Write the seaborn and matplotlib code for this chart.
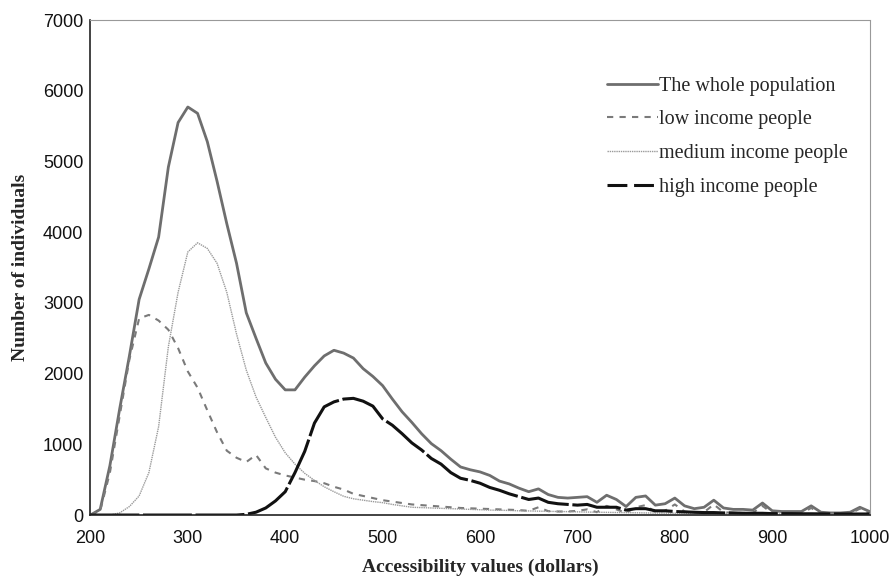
import numpy as np
import pandas as pd
import matplotlib
matplotlib.use("Agg")
import matplotlib.pyplot as plt
import seaborn as sns

# Accessibility values (dollars), 10-dollar bins
access = list(range(200, 1001, 10))

whole_population = [
    0, 80, 700, 1500, 2250, 3050, 3480, 3930, 4920, 5550,
    5770, 5680, 5280, 4720, 4120, 3560, 2860, 2500, 2150, 1920,
    1770, 1770, 1950, 2110, 2250, 2330, 2290, 2220, 2070, 1960,
    1830, 1640, 1460, 1310, 1150, 1010, 910, 790, 680, 640,
    610, 560, 480, 440, 380, 330, 370, 290, 250, 240,
    250, 260, 180, 280, 220, 120, 250, 270, 140, 160,
    240, 130, 90, 110, 210, 100, 80, 80, 70, 170,
    60, 50, 50, 50, 130, 40, 30, 30, 40, 110,
    50,
]

low_income = [
    0, 60, 600, 1400, 2200, 2780, 2830, 2750, 2620, 2360,
    2030, 1800, 1480, 1170, 910, 810, 750, 850, 660, 600,
    560, 530, 500, 480, 450, 400, 360, 300, 270, 240,
    210, 190, 170, 150, 140, 130, 120, 110, 100, 95,
    90, 85, 80, 75, 70, 60, 110, 55, 50, 50,
    60, 80, 40, 130, 80, 30, 110, 140, 40, 60,
    150, 50, 30, 40, 150, 40, 30, 30, 30, 130,
    25, 20, 20, 20, 100, 20, 15, 15, 20, 90,
    30,
]

medium_income = [
    0, 0, 0, 30, 120, 270, 600, 1250, 2380, 3150,
    3720, 3850, 3770, 3560, 3150, 2560, 2050, 1670, 1380, 1100,
    880, 720, 590, 490, 400, 330, 265, 230, 210, 190,
    175, 150, 130, 110, 105, 100, 95, 90, 85, 80,
    75, 70, 68, 65, 60, 58, 55, 52, 50, 48,
    45, 42, 40, 38, 36, 34, 32, 30, 28, 27,
    26, 25, 24, 23, 22, 21, 20, 19, 18, 17,
    16, 15, 15, 14, 14, 13, 12, 12, 11, 11,
    10,
]

high_income = [
    0, 0, 0, 0, 0, 0, 0, 0, 0, 0,
    0, 0, 0, 0, 0, 0, 10, 40, 100, 200,
    330, 600, 900, 1300, 1530, 1600, 1640, 1650, 1610, 1540,
    1360, 1270, 1150, 1020, 920, 800, 720, 600, 520, 490,
    450, 390, 350, 300, 260, 220, 240, 180, 160, 150,
    140, 150, 110, 110, 110, 70, 90, 90, 60, 60,
    50, 45, 40, 35, 35, 30, 30, 25, 25, 25,
    20, 20, 20, 18, 18, 17, 16, 16, 15, 15,
    15,
]

series_labels = [
    "The whole population",
    "low income people",
    "medium income people",
    "high income people",
]

x_ticks = [200, 300, 400, 500, 600, 700, 800, 900, 1000]
y_ticks = [0, 1000, 2000, 3000, 4000, 5000, 6000, 7000]

df = pd.DataFrame({
    "access": access,
    series_labels[0]: whole_population,
    series_labels[1]: low_income,
    series_labels[2]: medium_income,
    series_labels[3]: high_income,
})

sns.set_theme(style="white")
plt.rcParams["font.family"] = ["Liberation Sans", "DejaVu Sans"]

fig = plt.figure(figsize=(8.91, 5.80), dpi=100)
ax = fig.add_axes([0.1015, 0.112, 0.8745, 0.8535])

styles = {
    series_labels[0]: dict(color="#6e6e6e", linewidth=2.0, linestyle="-"),
    series_labels[1]: dict(color="#7a7a7a", linewidth=1.5, linestyle=(0, (3, 3))),
    series_labels[2]: dict(color="#9a9a9a", linewidth=1.0, linestyle=(0, (1, 0.6))),
    series_labels[3]: dict(color="#111111", linewidth=2.2, linestyle=(0, (16, 1.2))),
}

for name in series_labels:
    sns.lineplot(data=df, x="access", y=name, ax=ax, label=name, **styles[name])

ax.set_xlim(200, 1000)
ax.set_ylim(0, 7000)
ax.set_xticks(x_ticks)
ax.set_yticks(y_ticks)
ax.tick_params(axis="both", labelsize=13, colors="#222222", length=3,
               width=1, direction="out")
ax.tick_params(axis="y", pad=2)
ax.tick_params(axis="x", pad=8)
for lab in ax.get_xticklabels() + ax.get_yticklabels():
    lab.set_color("#111111")

ax.set_xlabel("Accessibility values (dollars)", fontsize=14, fontweight="bold",
              family=["Liberation Serif", "DejaVu Serif"], labelpad=8)
ax.set_ylabel("Number of individuals", fontsize=14, fontweight="bold",
              family=["Liberation Serif", "DejaVu Serif"], labelpad=10)

for side in ["left", "bottom"]:
    ax.spines[side].set_color("#222222")
    ax.spines[side].set_linewidth(1.2)
for side in ["top", "right"]:
    ax.spines[side].set_color("#999999")
    ax.spines[side].set_linewidth(0.8)
    ax.spines[side].set_linestyle((0, (1, 1)))

# legend keys: the high-income key shows its long dash with a visible break
legend_styles = dict(styles)
legend_styles[series_labels[3]] = dict(color="#111111", linewidth=2.2,
                                       linestyle=(0, (6.5, 2.2)))
handles = [plt.Line2D([], [], **legend_styles[name]) for name in series_labels]
leg = ax.legend(handles, series_labels, loc="upper left",
                bbox_to_anchor=(0.64, 0.922), frameon=False,
                handlelength=2.5, handletextpad=0.05, labelspacing=0.72,
                prop={"family": ["Liberation Serif", "DejaVu Serif"], "size": 14.5})

fig.savefig("out.png", dpi=100)
